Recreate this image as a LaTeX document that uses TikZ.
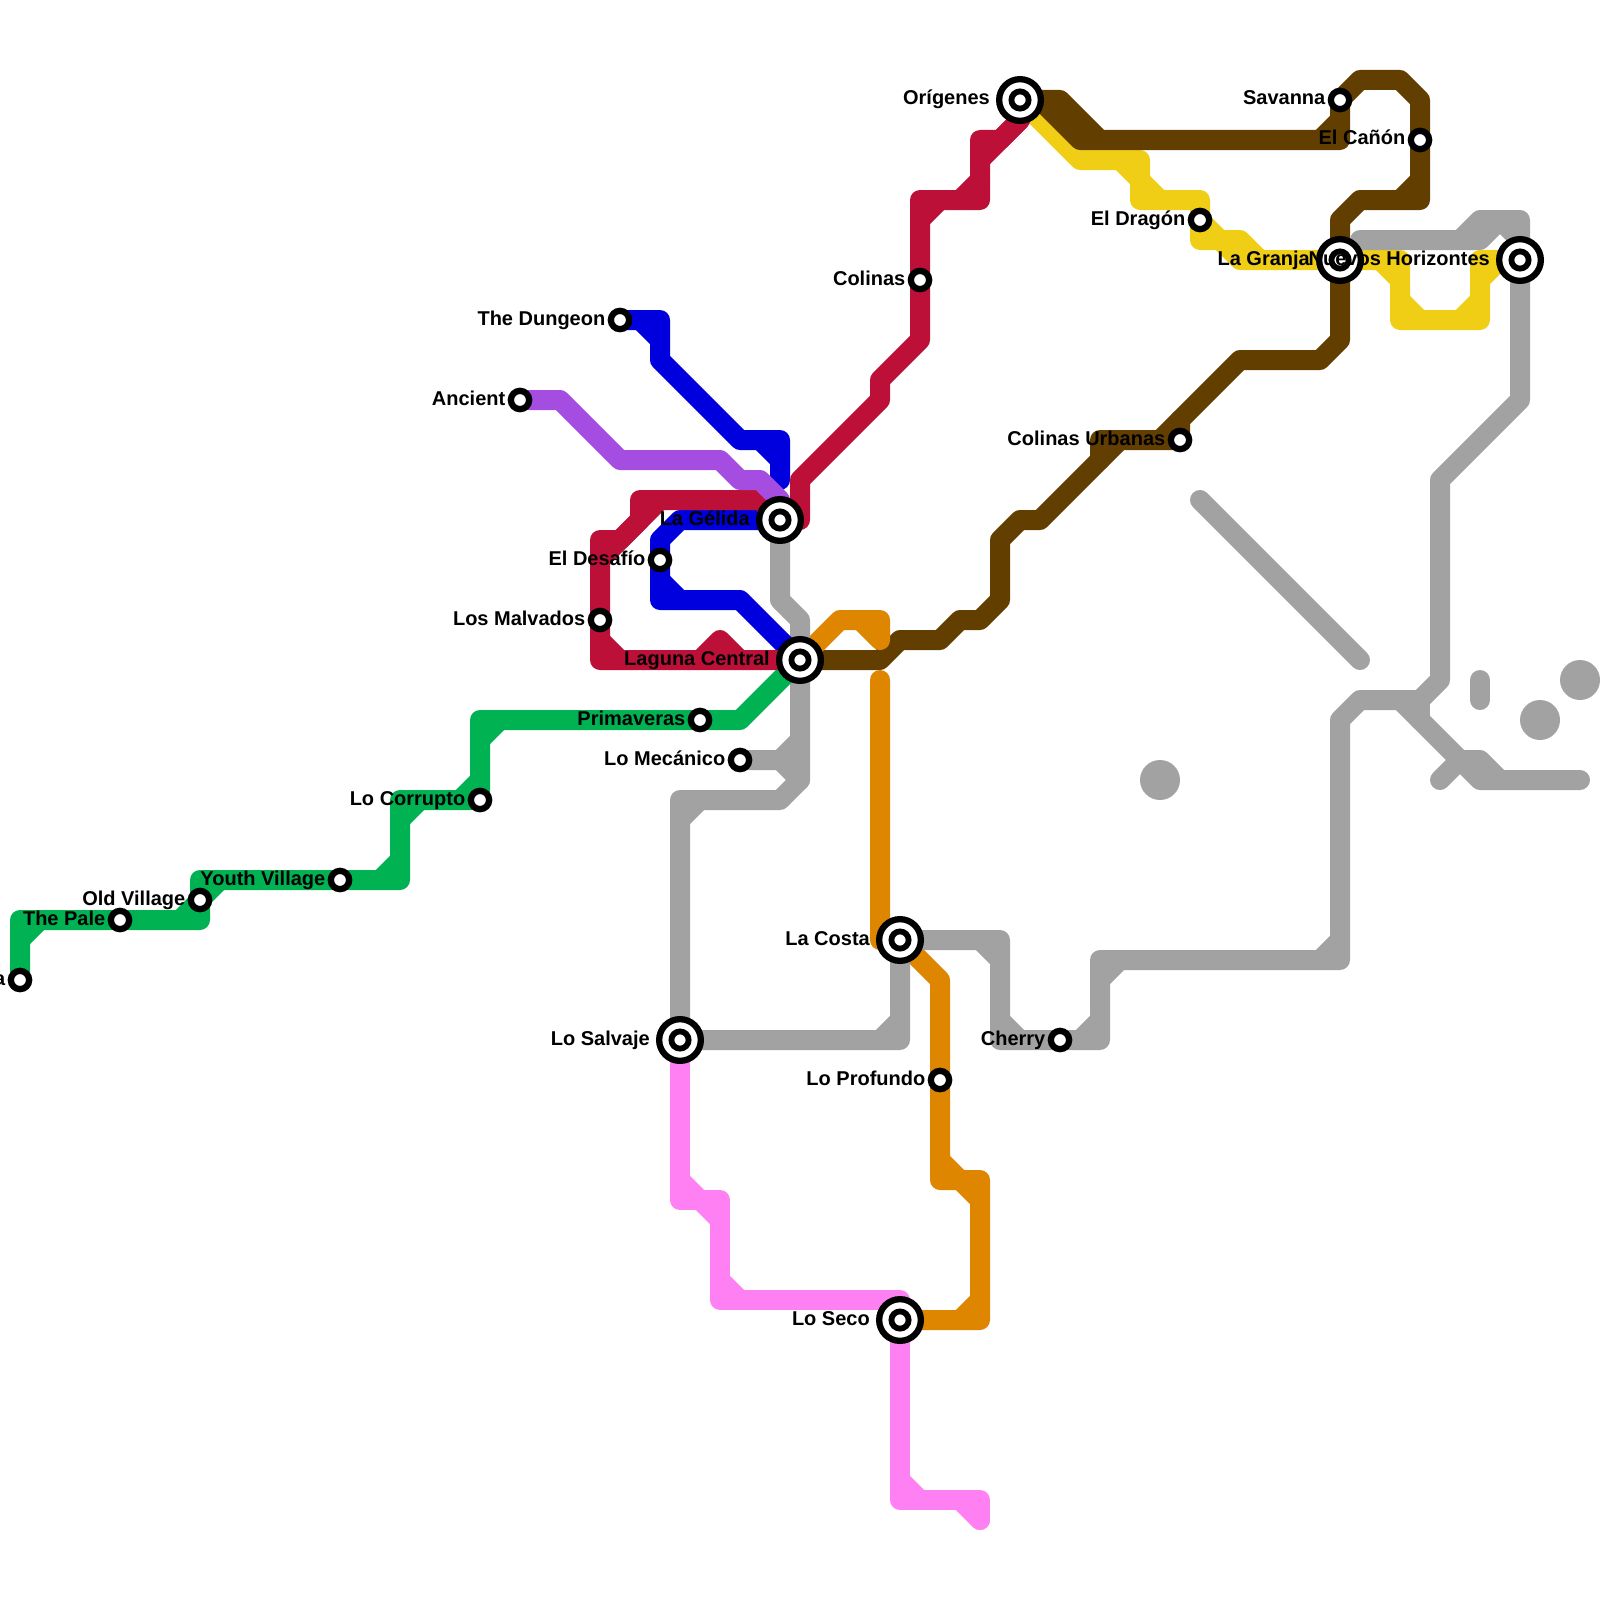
\documentclass[tikz,border=0pt]{standalone}
\usepackage{fontspec}
\setmainfont{Liberation Sans}
\definecolor{lyellow}{HTML}{F0CE15}
\definecolor{lbrown}{HTML}{623F00}
\definecolor{lorange}{HTML}{DF8600}
\definecolor{lgray}{HTML}{A2A2A2}
\definecolor{lpink}{HTML}{FF80F2}
\definecolor{lgreen}{HTML}{00B251}
\definecolor{lblue}{HTML}{0000DE}
\definecolor{lred}{HTML}{BD1038}
\definecolor{lpurple}{HTML}{A44DE0}
\tikzset{
  metro/.style={line width=20pt,line join=round,line cap=round},
  stop/.style={circle,draw=black,fill=white,line width=6.3pt,inner sep=0pt,minimum size=18.3pt},
  hub/.style={circle,draw=black,fill=white,line width=6.3pt,inner sep=0pt,minimum size=41.7pt},
  hubcore/.style={circle,draw=black,fill=white,line width=5.8pt,inner sep=0pt,minimum size=17.2pt},
  lbl/.style={anchor=base east,inner sep=0pt,yshift=-5pt,font=\fontsize{20}{24}\selectfont\bfseries,text=black},
  lblstop/.style={lbl,xshift=-14.5pt},
  lblhub/.style={lbl,xshift=-30pt},
}
\begin{document}
\begin{tikzpicture}[x=1pt,y=-1pt]
\useasboundingbox (0,0) rectangle (1600,1600);
% station positions
\coordinate (cOri) at (1020,100);
\coordinate (cSavanna) at (1340,100);
\coordinate (cCanon) at (1420,140);
\coordinate (cDragon) at (1200,220);
\coordinate (cGranja) at (1340,260);
\coordinate (cNuevos) at (1520,260);
\coordinate (cUrb) at (1180,440);
\coordinate (cColinas) at (920,280);
\coordinate (cDungeon) at (620,320);
\coordinate (cAncient) at (520,400);
\coordinate (cGelida) at (780,520);
\coordinate (cDesafio) at (660,560);
\coordinate (cMalv) at (600,620);
\coordinate (cLaguna) at (800,660);
\coordinate (cPrim) at (700,720);
\coordinate (cMec) at (740,760);
\coordinate (cCorr) at (480,800);
\coordinate (cYouth) at (340,880);
\coordinate (cOld) at (200,900);
\coordinate (cPale) at (120,920);
\coordinate (cEnd) at (20,980);
\coordinate (cCosta) at (900,940);
\coordinate (cSalvaje) at (680,1040);
\coordinate (cCherry) at (1060,1040);
\coordinate (cProf) at (940,1080);
\coordinate (cSeco) at (900,1320);
% yellow
\draw[metro,lyellow] (cOri)--(1080,160)--(1140,160)--(1140,200)--(1200,200)--(cDragon)--(1200,240)--(1240,240)--(1260,260)--(cGranja)--(1400,260)--(1400,320)--(1480,320)--(1480,260)--(cNuevos);
\draw[metro,lyellow] (1120,160)--(1140,180)--(1160,200);
\draw[metro,lyellow] (cDragon)--(1220,240)--(1240,260)--(1260,260);
\draw[metro,lyellow] (1380,260)--(1400,280);
\draw[metro,lyellow] (1400,300)--(1420,320);
\draw[metro,lyellow] (1460,320)--(1480,300);
\draw[metro,lyellow] (1480,280)--(1500,260);
% brown
\draw[metro,lbrown] (cOri)--(1060,100)--(1100,140)--(1340,140)--(cSavanna)--(1360,80)--(1400,80)--(1420,100)--(cCanon)--(1420,200)--(1360,200)--(1340,220)--(cGranja)--(1340,340)--(1320,360)--(1240,360)--(1180,420)--(cUrb)--(1100,440)--(1100,460)--(1040,520)--(1020,520)--(1000,540)--(1000,600)--(980,620)--(960,620)--(940,640)--(900,640)--(880,660)--(cLaguna);
\draw[metro,lbrown] (1040,100)--(1080,140)--(1100,140);
\draw[metro,lbrown] (1320,140)--(1340,120);
\draw[metro,lbrown] (1400,200)--(1420,180);
\draw[metro,lbrown] (1180,420)--(1160,440);
\draw[metro,lbrown] (1120,440)--(1100,460);
% orange
\draw[metro,lorange] (cLaguna)--(840,620)--(880,620)--(880,640)--(860,620);
\draw[metro,lorange] (880,680)--(880,940)--(cCosta)--(940,980)--(cProf)--(940,1180)--(980,1180)--(980,1320)--(cSeco);
\draw[metro,lorange] (940,1160)--(960,1180)--(980,1200);
\draw[metro,lorange] (960,1320)--(980,1300);
% gray
\draw[metro,lgray] (cGelida)--(780,600)--(800,620)--(cLaguna)--(800,780)--(780,800)--(680,800)--(cSalvaje)--(900,1040)--(cCosta)--(1000,940)--(1000,1040)--(cCherry)--(1100,1040)--(1100,960)--(1340,960)--(1340,720)--(1360,700)--(1420,700)--(1440,680)--(1440,480)--(1520,400)--(cNuevos)--(1520,220)--(1480,220)--(1460,240);
\draw[metro,lgray] (1360,240)--(1480,240)--(1500,220)--(1520,240);
\draw[metro,lgray] (680,820)--(700,800);
\draw[metro,lgray] (cMec)--(780,760)--(800,780);
\draw[metro,lgray] (780,760)--(800,740);
\draw[metro,lgray] (880,1040)--(900,1020);
\draw[metro,lgray] (980,940)--(1000,960);
\draw[metro,lgray] (1000,1020)--(1020,1040);
\draw[metro,lgray] (1080,1040)--(1100,1020);
\draw[metro,lgray] (1100,980)--(1120,960);
\draw[metro,lgray] (1320,960)--(1340,940);
\draw[metro,lgray] (1400,700)--(1480,780)--(1580,780);
\draw[metro,lgray] (1420,700)--(1420,720);
\draw[metro,lgray] (1440,780)--(1460,760)--(1480,760)--(1500,780);
\draw[metro,lgray] (1480,680)--(1480,700);
\draw[metro,lgray] (1200,500)--(1360,660);
\fill[lgray] (1160,780) circle (20pt);
\fill[lgray] (1540,720) circle (20pt);
\fill[lgray] (1580,680) circle (20pt);
% pink
\draw[metro,lpink] (cSalvaje)--(680,1200)--(720,1200)--(720,1300)--(900,1300)--(cSeco)--(900,1500)--(980,1500)--(980,1520);
\draw[metro,lpink] (680,1180)--(700,1200)--(720,1220);
\draw[metro,lpink] (720,1280)--(740,1300);
\draw[metro,lpink] (900,1480)--(920,1500);
\draw[metro,lpink] (960,1500)--(980,1520);
% green
\draw[metro,lgreen] (cLaguna)--(740,720)--(cPrim)--(480,720)--(cCorr)--(400,800)--(400,880)--(cYouth)--(200,880)--(cOld)--(200,920)--(cPale)--(20,920)--(cEnd);
\draw[metro,lgreen] (480,740)--(500,720);
\draw[metro,lgreen] (460,800)--(480,780);
\draw[metro,lgreen] (400,820)--(420,800);
\draw[metro,lgreen] (380,880)--(400,860);
\draw[metro,lgreen] (220,880)--(200,900)--(180,920);
\draw[metro,lgreen] (20,940)--(40,920);
% blue
\draw[metro,lblue] (cDungeon)--(660,320)--(660,360)--(740,440)--(780,440)--(780,480);
\draw[metro,lblue] (640,320)--(660,340);
\draw[metro,lblue] (760,440)--(780,460);
\draw[metro,lblue] (cGelida)--(680,520)--(660,540)--(cDesafio)--(660,600)--(740,600)--(cLaguna);
\draw[metro,lblue] (660,580)--(680,600);
% red
\draw[metro,lred] (cLaguna)--(600,660)--(cMalv)--(600,540)--(620,540)--(640,520)--(640,500)--(760,500)--(cGelida)--(800,520)--(800,480)--(880,400)--(880,380)--(920,340)--(cColinas)--(920,200)--(980,200)--(980,140)--(1000,140)--(1020,120)--(cOri);
\draw[metro,lred] (600,640)--(620,660);
\draw[metro,lred] (700,660)--(720,640)--(740,660);
\draw[metro,lred] (600,560)--(660,500);
\draw[metro,lred] (920,220)--(940,200);
\draw[metro,lred] (960,200)--(980,180);
\draw[metro,lred] (980,160)--(1020,120);
% purple
\draw[metro,lpurple] (cAncient)--(560,400)--(620,460)--(720,460)--(740,480)--(760,480)--(780,500)--(cGelida);
% interchanges
\foreach \c/\n in {cOri/Ori,cGranja/Granja,cNuevos/Nuevos,cGelida/Gelida,cLaguna/Laguna,cCosta/Costa,cSalvaje/Salvaje,cSeco/Seco}{
  \node[hub] (h\n) at (\c) {};
  \node[hubcore] (n\n) at (\c) {};
}
% stops
\foreach \c/\n in {cSavanna/nSavanna,cCanon/nCanon,cDragon/nDragon,cUrb/nUrb,cColinas/nColinas,cDungeon/nDungeon,cAncient/nAncient,cDesafio/nDesafio,cMalv/nMalv,cPrim/nPrim,cMec/nMec,cCorr/nCorr,cYouth/nYouth,cOld/nOld,cPale/nPale,cEnd/nEnd,cCherry/nCherry,cProf/nProf}
  \node[stop] (\n) at (\c) {};
% labels
\node[lblhub] (tOri) at (cOri) {Orígenes};
\node[lblstop] (tSavanna) at (cSavanna) {Savanna};
\node[lblstop] (tCanon) at (cCanon) {El Cañón};
\node[lblstop] (tDragon) at (cDragon) {El Dragón};
\node[lblhub] (tGranja) at (cGranja) {La Granja};
\node[lblhub] (tNuevos) at (cNuevos) {Nuevos Horizontes};
\node[lblstop] (tUrb) at (cUrb) {Colinas Urbanas};
\node[lblstop] (tColinas) at (cColinas) {Colinas};
\node[lblstop] (tDungeon) at (cDungeon) {The Dungeon};
\node[lblstop] (tAncient) at (cAncient) {Ancient};
\node[lblhub] (tGelida) at (cGelida) {La Gélida};
\node[lblstop] (tDesafio) at (cDesafio) {El Desafío};
\node[lblstop] (tMalv) at (cMalv) {Los Malvados};
\node[lblhub] (tLaguna) at (cLaguna) {Laguna Central};
\node[lblstop] (tPrim) at (cPrim) {Primaveras};
\node[lblstop] (tMec) at (cMec) {Lo Mecánico};
\node[lblstop] (tCorr) at (cCorr) {Lo Corrupto};
\node[lblstop] (tYouth) at (cYouth) {Youth Village};
\node[lblstop] (tOld) at (cOld) {Old Village};
\node[lblstop] (tPale) at (cPale) {The Pale};
\node[lblstop] (tEnd) at (cEnd) {a};
\node[lblhub] (tCosta) at (cCosta) {La Costa};
\node[lblhub] (tSalvaje) at (cSalvaje) {Lo Salvaje};
\node[lblstop] (tCherry) at (cCherry) {Cherry};
\node[lblstop] (tProf) at (cProf) {Lo Profundo};
\node[lblhub] (tSeco) at (cSeco) {Lo Seco};
\end{tikzpicture}
\end{document}
